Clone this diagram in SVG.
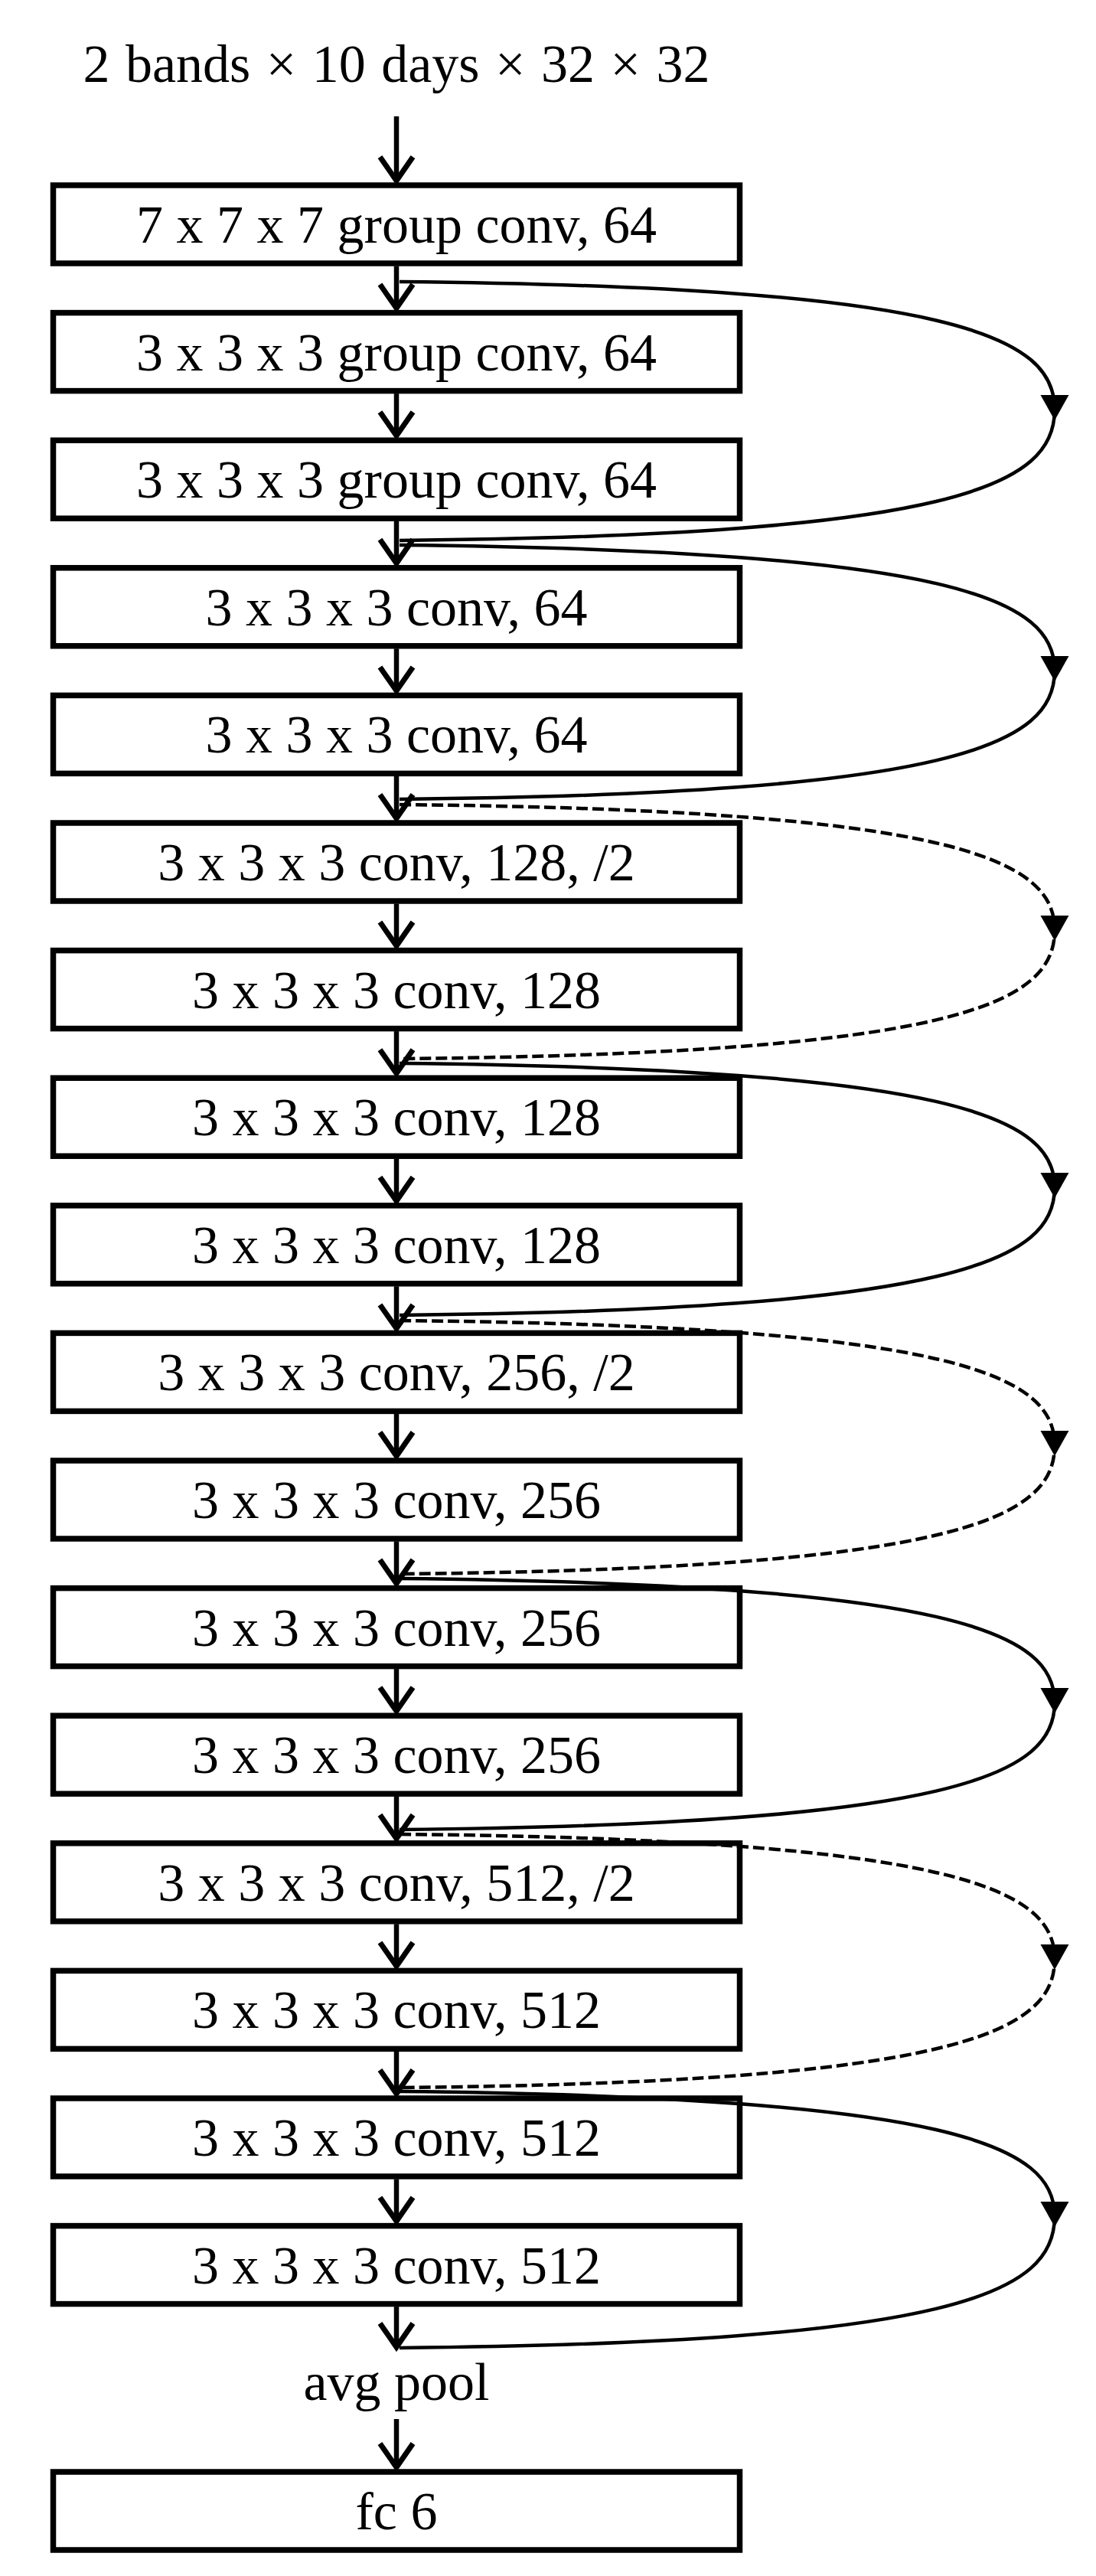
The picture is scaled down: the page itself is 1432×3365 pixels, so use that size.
<svg xmlns="http://www.w3.org/2000/svg" width="1432" height="3365" viewBox="0 0 1432 3365">
<style>
.box{fill:#fff;stroke:#000;stroke-width:7.5}
.lbl{font-family:"Liberation Serif","Times New Roman",serif;font-size:70px;text-anchor:middle;fill:#000}
.flow{stroke:#000;stroke-width:6.5;fill:none;marker-end:url(#vh)}
.skip{stroke:#000;stroke-width:4.5;fill:none;marker-mid:url(#tri)}
.dash{stroke-dasharray:15 6}
</style>
<defs>
<marker id="vh" markerUnits="userSpaceOnUse" viewBox="-40 -30 50 60" markerWidth="50" markerHeight="60" refX="0" refY="0" orient="auto" overflow="visible">
<path d="M-31,-21.5 L0,0 L-31,21.5" fill="none" stroke="#000" stroke-width="7"/>
</marker>
<marker id="tri" markerUnits="userSpaceOnUse" viewBox="-20 -20 40 40" markerWidth="40" markerHeight="40" refX="0" refY="0" orient="auto" overflow="visible">
<path d="M-19,-18.5 L14,0 L-19,18.5 Z" fill="#000" stroke="none"/>
</marker>
</defs>
<rect x="0" y="0" width="1432" height="3365" fill="#fff"/>

<g id="input"><text class="lbl" x="518" y="107" style="word-spacing:3px">2 bands × 10 days × 32 × 32</text></g>

<g id="n1"><rect class="box" x="69.5" y="242" width="897" height="102"/><text class="lbl" x="518" y="317">7 x 7 x 7 group conv, 64</text></g>
<g id="n2"><rect class="box" x="69.5" y="408.6" width="897" height="102"/><text class="lbl" x="518" y="483.6">3 x 3 x 3 group conv, 64</text></g>
<g id="n3"><rect class="box" x="69.5" y="575.2" width="897" height="102"/><text class="lbl" x="518" y="650.2">3 x 3 x 3 group conv, 64</text></g>
<g id="n4"><rect class="box" x="69.5" y="741.8" width="897" height="102"/><text class="lbl" x="518" y="816.8">3 x 3 x 3 conv, 64</text></g>
<g id="n5"><rect class="box" x="69.5" y="908.4" width="897" height="102"/><text class="lbl" x="518" y="983.4">3 x 3 x 3 conv, 64</text></g>
<g id="n6"><rect class="box" x="69.5" y="1075" width="897" height="102"/><text class="lbl" x="518" y="1150">3 x 3 x 3 conv, 128, /2</text></g>
<g id="n7"><rect class="box" x="69.5" y="1241.6" width="897" height="102"/><text class="lbl" x="518" y="1316.6">3 x 3 x 3 conv, 128</text></g>
<g id="n8"><rect class="box" x="69.5" y="1408.2" width="897" height="102"/><text class="lbl" x="518" y="1483.2">3 x 3 x 3 conv, 128</text></g>
<g id="n9"><rect class="box" x="69.5" y="1574.8" width="897" height="102"/><text class="lbl" x="518" y="1649.8">3 x 3 x 3 conv, 128</text></g>
<g id="n10"><rect class="box" x="69.5" y="1741.4" width="897" height="102"/><text class="lbl" x="518" y="1816.4">3 x 3 x 3 conv, 256, /2</text></g>
<g id="n11"><rect class="box" x="69.5" y="1908" width="897" height="102"/><text class="lbl" x="518" y="1983">3 x 3 x 3 conv, 256</text></g>
<g id="n12"><rect class="box" x="69.5" y="2074.6" width="897" height="102"/><text class="lbl" x="518" y="2149.6">3 x 3 x 3 conv, 256</text></g>
<g id="n13"><rect class="box" x="69.5" y="2241.2" width="897" height="102"/><text class="lbl" x="518" y="2316.2">3 x 3 x 3 conv, 256</text></g>
<g id="n14"><rect class="box" x="69.5" y="2407.8" width="897" height="102"/><text class="lbl" x="518" y="2482.8">3 x 3 x 3 conv, 512, /2</text></g>
<g id="n15"><rect class="box" x="69.5" y="2574.4" width="897" height="102"/><text class="lbl" x="518" y="2649.4">3 x 3 x 3 conv, 512</text></g>
<g id="n16"><rect class="box" x="69.5" y="2741" width="897" height="102"/><text class="lbl" x="518" y="2816">3 x 3 x 3 conv, 512</text></g>
<g id="n17"><rect class="box" x="69.5" y="2907.6" width="897" height="102"/><text class="lbl" x="518" y="2982.6">3 x 3 x 3 conv, 512</text></g>
<g id="pool"><text class="lbl" x="518" y="3135">avg pool</text></g>
<g id="fc"><rect class="box" x="69.5" y="3229" width="897" height="102"/><text class="lbl" x="518" y="3304">fc 6</text></g>

<g id="connectors">
<line class="flow" x1="518" y1="152" x2="518" y2="236"/>
<line class="flow" x1="518" y1="347.5" x2="518" y2="402.6"/>
<line class="flow" x1="518" y1="514.1" x2="518" y2="569.2"/>
<line class="flow" x1="518" y1="680.7" x2="518" y2="735.8"/>
<line class="flow" x1="518" y1="847.3" x2="518" y2="902.4"/>
<line class="flow" x1="518" y1="1013.9" x2="518" y2="1069"/>
<line class="flow" x1="518" y1="1180.5" x2="518" y2="1235.6"/>
<line class="flow" x1="518" y1="1347.1" x2="518" y2="1402.2"/>
<line class="flow" x1="518" y1="1513.7" x2="518" y2="1568.8"/>
<line class="flow" x1="518" y1="1680.3" x2="518" y2="1735.4"/>
<line class="flow" x1="518" y1="1846.9" x2="518" y2="1902"/>
<line class="flow" x1="518" y1="2013.5" x2="518" y2="2068.6"/>
<line class="flow" x1="518" y1="2180.1" x2="518" y2="2235.2"/>
<line class="flow" x1="518" y1="2346.7" x2="518" y2="2401.8"/>
<line class="flow" x1="518" y1="2513.3" x2="518" y2="2568.4"/>
<line class="flow" x1="518" y1="2679.9" x2="518" y2="2735"/>
<line class="flow" x1="518" y1="2846.5" x2="518" y2="2901.6"/>
<line class="flow" x1="518" y1="3013.1" x2="518" y2="3066"/>
<line class="flow" x1="518" y1="3160" x2="518" y2="3223"/>

<path class="skip" d="M522,368 C1250,375 1378,440 1378,535 C1378,634 1250,699 522,706"/>
<path class="skip" d="M522,712 C1250,719 1378,784 1378,876 C1378,972 1250,1037 522,1044"/>
<path class="skip dash" d="M522,1051 C1250,1058 1378,1123 1378,1215 C1378,1311 1250,1376 522,1383"/>
<path class="skip" d="M522,1389 C1250,1396 1378,1461 1378,1551 C1378,1646 1250,1711 522,1718"/>
<path class="skip dash" d="M522,1725 C1250,1732 1378,1797 1378,1888 C1378,1984 1250,2049 522,2056"/>
<path class="skip" d="M522,2062 C1250,2069 1378,2134 1378,2224 C1378,2318 1250,2383 522,2390"/>
<path class="skip dash" d="M522,2396 C1250,2403 1378,2468 1378,2559 C1378,2655 1250,2720 522,2727"/>
<path class="skip" d="M522,2732 C1250,2739 1378,2804 1378,2895 C1378,2995 1250,3060 522,3067"/>
</g>
</svg>
